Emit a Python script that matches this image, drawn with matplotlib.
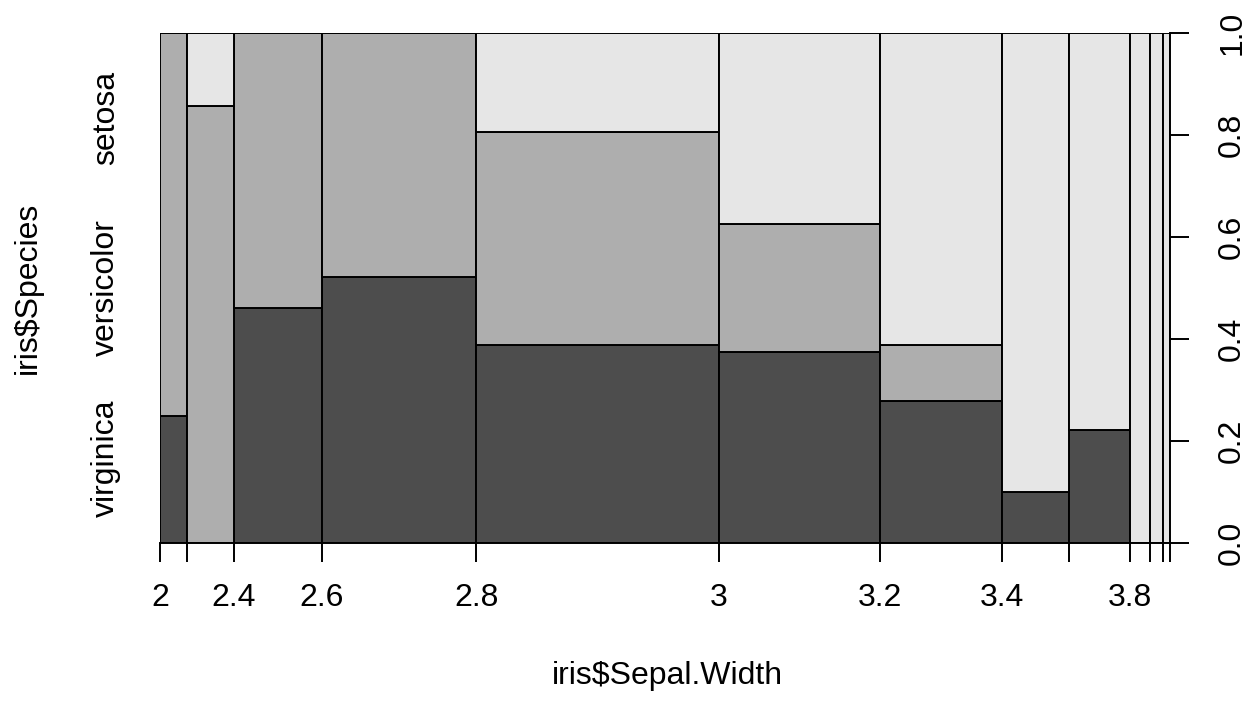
import numpy as np
import matplotlib.pyplot as plt

plt.rcParams['font.family'] = ['Liberation Sans', 'DejaVu Sans']

# bins of iris$Sepal.Width and species counts in each bin
breaks = [2.0, 2.2, 2.4, 2.6, 2.8, 3.0, 3.2, 3.4, 3.6, 3.8, 4.0, 4.2, 4.4]
break_labels = ['2', '', '2.4', '2.6', '2.8', '3', '3.2', '3.4', '', '3.8', '', '', '']
species = ['virginica', 'versicolor', 'setosa']
virginica = [1, 0, 6, 12, 14, 9, 5, 1, 2, 0, 0, 0]
versicolor = [3, 6, 7, 11, 15, 6, 2, 0, 0, 0, 0, 0]
setosa = [0, 1, 0, 0, 7, 9, 11, 9, 7, 3, 2, 1]
colors = ['#4D4D4D', '#AEAEAE', '#E6E6E6']

counts = np.array([virginica, versicolor, setosa], dtype=float)
tot = counts.sum(axis=0)
xw = tot / tot.sum()
xl = np.concatenate([[0], np.cumsum(xw)[:-1]])
props = counts / tot

fs = 23
fig = plt.figure(figsize=(12.55, 7.02), dpi=100)
ax = fig.add_axes([160 / 1255, 1 - 543 / 702, 1010 / 1255, 510 / 702])

bottom = np.zeros(len(tot))
for k in range(3):
    ax.bar(xl, props[k], width=xw, bottom=bottom, align='edge',
           color=colors[k], edgecolor='black', linewidth=1.4)
    bottom += props[k]

ax.set_xlim(0, 1)
ax.set_ylim(0, 1)
for s in ['top', 'left']:
    ax.spines[s].set_visible(False)
ax.spines['bottom'].set_linewidth(1.4)
ax.spines['right'].set_linewidth(1.4)

ax.set_xticks(np.concatenate([[0], np.cumsum(xw)]))
ax.set_xticklabels(break_labels)
ax.tick_params(axis='x', length=14, width=1.4, pad=15, labelsize=fs)

ax.yaxis.tick_right()
ax.set_yticks([0, 0.2, 0.4, 0.6, 0.8, 1.0])
ax.set_yticklabels(['0.0', '0.2', '0.4', '0.6', '0.8', '1.0'], rotation=90, va='center')
ax.tick_params(axis='y', length=14, width=1.4, pad=20, labelsize=fs)

marg = counts.sum(axis=1) / counts.sum()
mids = np.cumsum(marg) - marg / 2
for name, m in zip(species, mids):
    ax.text(-54 / 1010, m, name, rotation=90, ha='center', va='center',
            fontsize=fs, transform=ax.transAxes)

fig.text(28 / 1255, 1 - 288 / 702, 'iris$Species', rotation=90, ha='center', va='center', fontsize=fs)
fig.text(667 / 1255, 1 - 676 / 702, 'iris$Sepal.Width', ha='center', va='center', fontsize=fs)

fig.savefig('out.png', dpi=100)
